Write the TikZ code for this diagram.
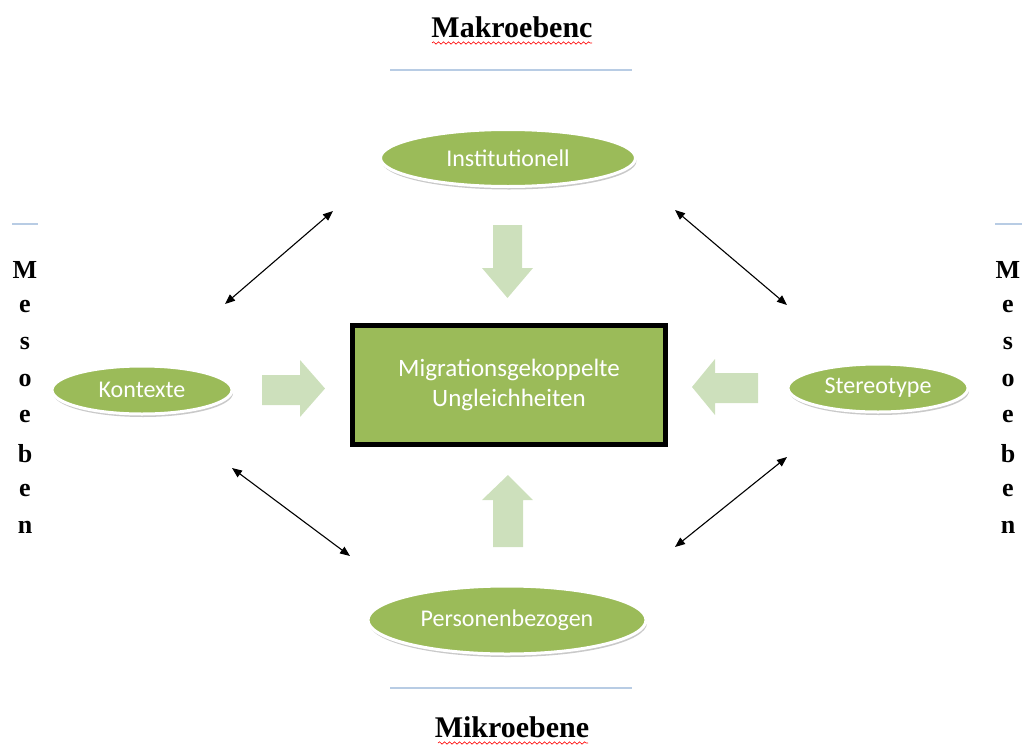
\documentclass[tikz,border=0pt]{standalone}
\usepackage{fontspec}
\setmainfont{Liberation Serif}
\newfontfamily\calib{Carlito}
\usetikzlibrary{shapes.geometric,arrows.meta,decorations.pathmorphing,shadows}
\definecolor{ogreen}{RGB}{155,187,89}
\definecolor{lgreen}{RGB}{205,224,188}
\definecolor{lblue}{RGB}{184,204,228}
\tikzset{
  oval/.style={ellipse, fill=ogreen, draw=white, line width=3pt, inner sep=0pt,
    font=\calib\fontsize{24}{28}\selectfont, text=white,
    drop shadow={shadow xshift=1pt, shadow yshift=-3pt, opacity=0.3, fill=black!70}},
  centerbox/.style={rectangle, fill=ogreen, draw=black, line width=5pt, text=white,
    align=center, font=\calib\fontsize{25}{30}\selectfont},
  blockarrow/.style={fill=lgreen, draw=none},
  dblarrow/.style={{Triangle[length=10pt,width=8pt]}-{Triangle[length=10pt,width=8pt]}, line width=1.1pt, black},
  leveltitle/.style={font=\bfseries\fontsize{30}{32}\selectfont},
  mesoletter/.style={font=\bfseries\fontsize{26}{30}\selectfont, inner sep=0pt},
  wavy/.style={red, line width=0.6pt, decorate, decoration={snake, amplitude=1.2pt, segment length=5pt}},
  sepline/.style={lblue, line width=2pt}
}
\begin{document}
\begin{tikzpicture}[x=1pt,y=-1pt]
\useasboundingbox (0,0) rectangle (1025,747);

% titles
\node[leveltitle] (makro) at (512,27) {Makroebenc};
\draw[wavy] (432,43) -- (592,43);
\draw[sepline] (390,70) -- (632,70);

\node[leveltitle] (mikro) at (512,727) {Mikroebene};
\draw[wavy] (438,743) -- (588,743);
\draw[sepline] (390,688) -- (632,688);

% meso labels
\draw[sepline] (12,224) -- (38,224);
\draw[sepline] (995,224) -- (1022,224);
\foreach \l [count=\i] in {M,e,s,o,e,b,e,n} {
  \node[mesoletter] (ml\i) at (25,{270+36.7*(\i-1)}) {\l};
  \node[mesoletter] (mr\i) at (1008,{270+36.7*(\i-1)}) {\l};
}

% ovals
\node[oval, minimum width=255pt, minimum height=57pt] (inst) at (508,158) {Institutionell};
\node[oval, minimum width=180pt, minimum height=48pt] (kont) at (142,390) {Kontexte};
\node[oval, minimum width=180pt, minimum height=48pt] (stereo) at (878,388) {Stereotype};
\node[oval, minimum width=278pt, minimum height=68pt] (pers) at (507,620) {Personenbezogen};

% center box
\node[centerbox, minimum width=313pt, minimum height=119pt] (mig) at (509,385)
  {Migrationsgekoppelte\\Ungleichheiten};

% block arrows
\fill[blockarrow] (493,225) -- (522,225) -- (522,268) -- (533,268) -- (507.5,298) -- (482,268) -- (493,268) -- cycle;
\fill[blockarrow] (493,547) -- (523,547) -- (523,500) -- (533,500) -- (508,475) -- (482,500) -- (493,500) -- cycle;
\fill[blockarrow] (262,375) -- (300,375) -- (300,360) -- (325,388.5) -- (300,417) -- (300,405) -- (262,405) -- cycle;
\fill[blockarrow] (758,373) -- (715,373) -- (715,359) -- (692,387) -- (715,415) -- (715,403) -- (758,403) -- cycle;

% double arrows
\coordinate (tlA) at (225,304);
\coordinate (tlB) at (333,211);
\coordinate (trA) at (675,210);
\coordinate (trB) at (787,305);
\coordinate (blA) at (232,468);
\coordinate (blB) at (350,556);
\coordinate (brA) at (675,547);
\coordinate (brB) at (787,457);
\draw[dblarrow] (tlA) -- (tlB);
\draw[dblarrow] (trA) -- (trB);
\draw[dblarrow] (blA) -- (blB);
\draw[dblarrow] (brA) -- (brB);
\end{tikzpicture}
\end{document}
